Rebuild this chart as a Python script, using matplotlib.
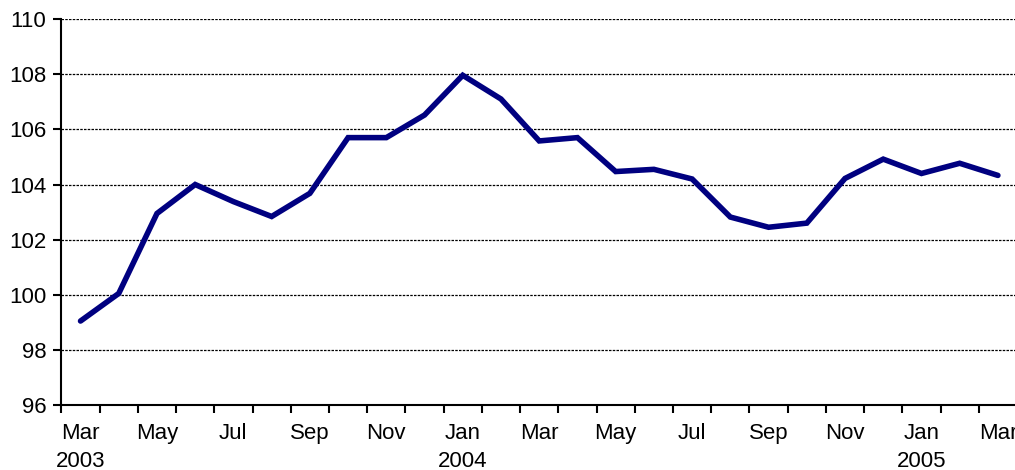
import matplotlib
matplotlib.use("Agg")
import matplotlib.pyplot as plt

months = ["Mar", "Apr", "May", "Jun", "Jul", "Aug", "Sep", "Oct", "Nov", "Dec",
          "Jan", "Feb", "Mar", "Apr", "May", "Jun", "Jul", "Aug", "Sep", "Oct",
          "Nov", "Dec", "Jan", "Feb", "Mar"]
years = {0: "2003", 10: "2004", 22: "2005"}
values = [99.05, 100.05, 102.95, 104.0, 103.38, 102.84, 103.68, 105.7, 105.7, 106.52,
          107.96, 107.1, 105.58, 105.7, 104.47, 104.55, 104.2, 102.82, 102.45, 102.6,
          104.22, 104.92, 104.4, 104.77, 104.33]

plt.rcParams['font.family'] = ['Liberation Sans', 'DejaVu Sans']

fig = plt.figure(figsize=(10.15, 4.7), dpi=100)
ax = fig.add_axes([0.0605, 0.138, 0.9415, 0.8215])

x = list(range(len(values)))
ax.plot(x, values, color="#000080", linewidth=4.0, solid_joinstyle="miter",
        solid_capstyle="round", zorder=3)

ax.set_ylim(96, 110)
ax.set_yticks(range(96, 111, 2))
ax.set_xlim(-0.5, len(values) - 0.5)

# boundary ticks every month, labels every second month
ax.set_xticks([i - 0.5 for i in range(len(values) + 1)])
ax.set_xticklabels([])
lab_pos = list(range(0, len(values), 2))
labels = [months[i] + ("\n" + years[i] if i in years else "") for i in lab_pos]
ax.set_xticks(lab_pos, minor=True)
ax.set_xticklabels(labels, minor=True, fontsize=16, linespacing=1.4)
ax.tick_params(axis="x", which="minor", length=0, pad=13)
ax.tick_params(axis="x", which="major", length=6, width=1.5, direction="out")
ax.tick_params(axis="y", length=6, width=1.5, direction="out", labelsize=16, pad=5)

ax.grid(axis="y", color="black", linestyle=(0, (2, 1)), linewidth=0.9)
ax.set_axisbelow(True)

for side in ["top", "right"]:
    ax.spines[side].set_visible(False)
for side in ["left", "bottom"]:
    ax.spines[side].set_linewidth(1.5)

fig.savefig("out.png", dpi=100)
